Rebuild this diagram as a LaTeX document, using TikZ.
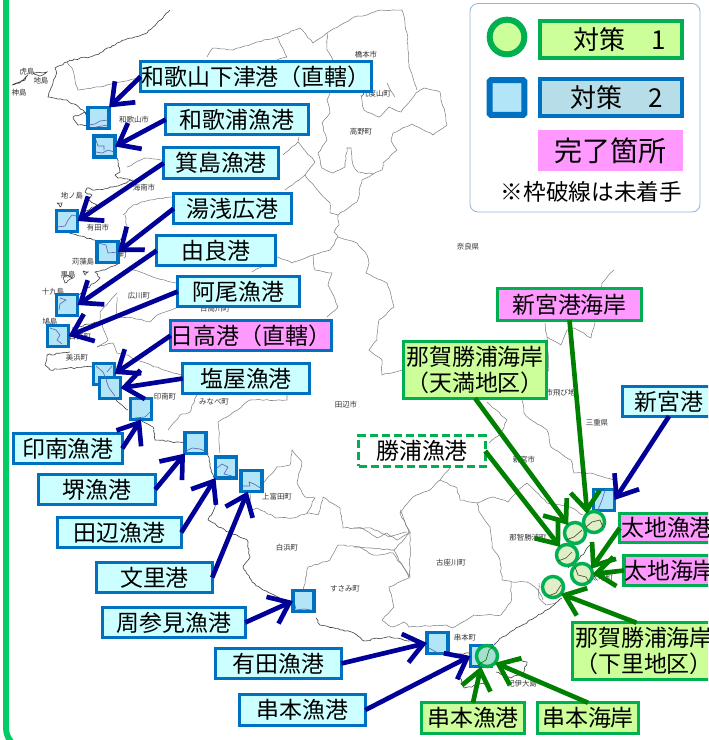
\documentclass[tikz,border=0pt]{standalone}
\usepackage{fontspec}
\setmainfont{Noto Sans CJK JP}
\usetikzlibrary{arrows.meta,decorations.pathmorphing}
\definecolor{bluel}{HTML}{0070C0}
\definecolor{greenl}{HTML}{00B050}
\definecolor{cyanf}{HTML}{CCFFFF}
\definecolor{pinkf}{HTML}{FF99FF}
\definecolor{greenf}{HTML}{CCFF99}
\definecolor{sqf}{HTML}{B3E5F9}
\definecolor{cif}{HTML}{E0EFC8}
\definecolor{navyarr}{HTML}{000099}
\definecolor{greenarr}{HTML}{008000}
\definecolor{framec}{HTML}{00CC66}
\tikzset{
  lbl/.style={rectangle,inner sep=0pt,outer sep=0pt,line width=2.6pt,align=center,font=\fontsize{17.2}{20}\selectfont},
  bluebox/.style={lbl,draw=bluel,fill=cyanf},
  greenbox/.style={lbl,draw=greenl,fill=greenf},
  pinkblue/.style={lbl,draw=bluel,fill=pinkf},
  pinkgreen/.style={lbl,draw=greenl,fill=pinkf},
  dashbox/.style={lbl,draw=greenl,fill=white,dash pattern=on 6pt off 3pt},
  sq/.style={rectangle,draw=bluel,fill=sqf,line width=2.6pt,minimum size=15.8pt,inner sep=0pt,outer sep=0pt},
  ci/.style={circle,draw=greenl,fill=cif,line width=2.6pt,minimum size=15.8pt,inner sep=0pt,outer sep=0pt},
  navyarrow/.style={draw=navyarr,line width=3.5pt,-{Straight Barb[length=14pt,width=22pt,line width=3.5pt]}},
  greenarrow/.style={draw=greenarr,line width=3.5pt,-{Straight Barb[length=14pt,width=22pt,line width=3.5pt]}},
  mapl/.style={draw=black!50,line width=0.4pt,decorate,decoration={random steps,segment length=3pt,amplitude=0.5pt}},
  coast/.style={draw=black!75,line width=0.45pt,decorate,decoration={random steps,segment length=2pt,amplitude=0.6pt}},
  maplab/.style={inner sep=0pt,text=black!80,font=\fontsize{5.6}{6}\selectfont},
  sqd/.style={draw=black!50!blue!60,line width=0.5pt},
  cid/.style={draw=black!55!olive,line width=0.5pt},
}
\newcommand\bx[7]{\node[#6,minimum width={(#4-#2-3.5)*0.75},minimum height={(#5-#3-3.5)*0.75}] (#1) at ({(#2+#4)/2},{(#3+#5)/2}) {#7};}
\begin{document}
\begin{tikzpicture}[x=0.75pt,y=-0.75pt]
\useasboundingbox (0,0) rectangle (708,740);
\clip (0,0) rectangle (708,740);
\fill[white] (0,0) rectangle (708,740);
\pgfmathsetseed{7}
% frame
\draw[framec,line width=4.5pt] (6,-5) -- (6,728) .. controls (6,735) and (9,740) .. (14,745);
% map: coast
\draw[coast] (170,10)--(157,23)--(147,33)--(130,38)--(117,43)--(100,53)--(90,57)--(80,58)--(67,62)--(55,68)--(56,75)--(53,83)--(48,97)--(67,100)--(83,110)--(90,116);
\draw[coast] (73,117)--(85,112)--(90,125)--(78,125)--(73,117);
\draw[coast] (117,158)--(120,172)--(115,175)--(118,178)--(133,180)--(113,187)--(95,190)--(87,188)--(85,192)--(92,195)--(88,200)--(97,205)--(80,215);
\draw[coast] (65,232)--(80,236)--(95,240);
\draw[coast] (120,262)--(105,270)--(95,272)--(100,278)--(85,290)--(78,295);
\draw[coast] (72,328)--(97,322);
\draw[coast] (70,352)--(47,355)--(45,365)--(50,370)--(68,368)--(92,367);
\draw[coast] (116,400)--(128,410);
\draw[coast] (142,421)--(153,427)--(155,440)--(184,443);
\draw[coast] (208,453)--(210,467)--(214,478);
\draw[coast] (214,490)--(217,503)--(208,520)--(230,533)--(247,540)--(250,557)--(243,567)--(252,582)--(263,590)--(290,603);
\draw[coast] (316,618)--(320,625)--(343,630)--(354,633)--(364,641)--(387,637)--(424,643);
\draw[coast] (450,655)--(469,653);
\draw[coast] (493,647)--(501,638)--(514,630)--(534,618)--(554,605)--(562,598);
\draw[coast] (500,665)--(521,660)--(527,662)--(524,672)--(511,678)--(496,672);
\draw[coast] (460,678)--(464,688)--(487,683)--(481,668);
\draw[coast] (12,85)--(20,83)--(28,75)--(25,80)--(12,85);
\draw[coast] (33,73)--(47,72)--(40,76)--(33,73);
\draw[coast] (57,203)--(62,203)--(60,207)--(57,203);
\draw[coast] (68,275)--(73,278)--(65,283)--(63,278)--(68,275);
\draw[coast] (83,271)--(88,272)--(85,275)--(83,271);
\draw[coast] (568,568)--(578,560)--(590,545);
% map: borders
\draw[mapl] (67,62)--(72,68)--(75,80)--(78,90)--(100,87)--(120,82)--(139,78);
\draw[mapl] (207,57)--(213,48)--(233,50)--(257,42)--(277,37)--(300,28)--(313,43)--(327,33)--(354,17)--(367,15)--(381,10)--(402,10)--(407,33)--(409,67)--(417,90);
\draw[mapl] (277,37)--(287,57)--(277,60);
\draw[mapl] (327,33)--(327,50)--(333,60);
\draw[mapl] (333,60)--(330,93)--(327,100)--(330,113)--(322,123)--(327,140)--(318,153)--(322,168)--(333,173)--(345,167)--(347,148)--(351,148)--(353,165)--(358,172)--(373,174)--(382,170)--(383,163)--(397,150)--(391,140)--(393,133)--(412,124)--(433,135)--(447,125)--(445,113)--(441,100)--(440,92)--(424,88)--(416,93)--(401,112)--(389,107)--(379,117)--(364,110)--(361,95);
\draw[mapl] (387,83)--(395,97);
\draw[mapl] (127,167)--(145,158)--(163,160);
\draw[mapl] (299,137)--(298,142)--(315,162)--(305,175)--(285,190);
\draw[mapl] (298,142)--(283,155);
\draw[mapl] (305,175)--(320,193)--(330,203)--(330,213)--(338,215)--(357,202)--(362,180)--(373,174);
\draw[mapl] (338,215)--(339,225)--(334,232)--(338,237)--(357,243)--(367,255)--(369,263)--(366,273)--(387,283)--(394,307)--(379,320)--(377,340)--(369,350)--(382,360)--(382,375)--(402,370);
\draw[mapl] (338,237)--(330,250)--(313,255)--(292,263)--(278,257)--(252,272);
\draw[mapl] (313,255)--(315,270)--(332,273)--(328,285)--(338,307)--(327,317);
\draw[mapl] (123,215)--(133,205)--(150,200)--(172,197);
\draw[mapl] (125,215)--(128,232)--(120,240);
\draw[mapl] (133,270)--(153,277)--(176,283);
\draw[mapl] (117,293)--(100,312)--(100,320)--(108,340)--(97,347);
\draw[mapl] (117,297)--(117,317)--(133,318)--(150,322)--(157,315)--(176,308);
\draw[mapl] (97,347)--(113,343)--(117,353)--(128,355)--(135,360)--(181,375);
\draw[mapl] (287,395)--(287,400)--(250,400)--(230,415)--(218,422)--(220,453);
\draw[mapl] (197,395)--(190,412)--(180,415)--(168,430);
\draw[mapl] (263,483)--(277,467)--(290,465)--(292,450)--(302,462)--(297,483)--(305,497)--(315,498)--(307,513)--(318,515)--(323,497)--(340,508)--(343,528)--(362,528)--(377,538)--(387,533)--(397,540)--(410,532)--(400,513)--(413,497)--(430,490)--(440,480);
\draw[mapl] (250,493)--(250,510)--(257,508)--(277,518)--(293,518)--(307,513);
\draw[mapl] (410,532)--(410,577)--(393,553)--(373,555)--(360,547)--(338,545)--(330,560)--(308,567)--(303,590);
\draw[mapl] (450,468)--(440,480)--(457,488)--(460,500)--(477,503)--(493,497)--(508,502)--(518,490)--(527,483)--(547,503)--(570,507)--(583,515);
\draw[mapl] (477,503)--(480,513)--(490,527)--(492,547)--(500,560)--(502,580)--(512,582)--(527,582)--(538,590)--(543,600);
\draw[mapl] (400,510)--(409,533)--(394,550)--(409,578)--(389,587)--(394,607)--(382,620)--(392,627)--(404,622)--(409,627)--(446,625)--(452,628)--(474,615)--(501,615)--(511,602)--(511,582);
\draw[mapl] (354,528)--(371,528)--(389,537)--(407,532);
\draw[mapl] (354,547)--(371,548)--(394,550);
\draw[mapl] (539,583)--(539,598)--(546,605)--(557,602);
\draw[mapl] (545,323)--(547,337)--(561,345)--(567,330)--(574,328)--(591,338)--(594,327)--(602,283)--(614,270);
\draw[mapl] (547,337)--(549,370)--(522,400)--(524,413)--(531,420)--(547,430)--(551,447)--(571,460)--(574,473)--(590,473)--(614,480)--(616,490);
\draw[mapl] (487,402)--(507,420)--(501,433)--(489,443);
% map labels
\foreach \px/\py/\tx in {
 134/120/和歌山市,144/188/海南市,98/228/有田市,116/255/湯浅町,139/296/広川町,80/337/日高町,77/358/美浜町,165/397/印南町,214/402/みなべ町,346/405/田辺市,277/497/上富田町,287/548/白浜町,345/589/すさみ町,465/638/串本町,451/563/古座川町,528/538/那智勝浦町,602/578/太地町,522/684/紀伊大島,524/460/新宮市,597/423/三重県,468/247/奈良県,361/132/高野町,366/55/橋本市,376/94/九度山町,553/393/新宮市飛び地,215/309/日高川町,
 27/72/虎島,41/81/地島,19/93/神島,72/196/地ノ島,83/262/苅藻島,68/275/黒島,53/292/十九島,50/322/鳩島}
 {\node[maplab] at (\px,\py) {\tx};}
% small squares
\node[sq] (s1) at (98.5,118) {};
\node[sq] (s2) at (104.5,146.5) {};
\node[sq] (s3) at (67,221) {};
\node[sq] (s4) at (107.5,252) {};
\node[sq] (s5) at (67,305) {};
\node[sq] (s6) at (58,336) {};
\node[sq] (s7) at (104,374) {};
\node[sq] (s8) at (110,388) {};
\node[sq] (s9) at (141,409) {};
\node[sq] (s10) at (195.5,443) {};
\node[sq] (s11) at (226,467.5) {};
\node[sq] (s12) at (251.5,481) {};
\node[sq] (s13) at (303.5,601) {};
\node[sq] (s14) at (437.5,643) {};
\node[sq] (s15) at (481,656) {};
\node[sq] (s16) at (604,500) {};
% squiggles in squares
\draw[sqd] (89,125)--(95,124)--(100,121)--(108,120) (96,127)--(108,125);
\draw[sqd] (96,140)--(98,146)--(104,146)--(104,150) (96,152)--(102,153)--(108,150)--(114,152);
\draw[sqd] (58,227)--(65,226)--(68,220)--(72,215)--(76,216);
\draw[sqd] (98,243)--(106,245)--(108,253)--(118,252);
\draw[sqd] (59,310)--(60,304)--(66,300)--(60,298);
\draw[sqd] (50,328)--(56,330)--(60,335)--(57,340)--(62,344);
\draw[sqd] (96,366)--(103,372)--(107,380) (112,366)--(107,372);
\draw[sqd] (106,380)--(109,388)--(115,396);
\draw[sqd] (135,418)--(145,417)--(150,412);
\draw[sqd] (186,451)--(192,448)--(200,449)--(205,451);
\draw[sqd] (217,468)--(222,464)--(228,467)--(224,474)--(232,476);
\draw[sqd] (243,486)--(250,486)--(249,482)--(254,484)--(262,489);
\draw[sqd] (295,605)--(296,610)--(304,609)--(311,610);
\draw[sqd] (429,648)--(436,652)--(444,654);
\draw[sqd] (598,510)--(602,500)--(605,490)--(612,489);
% circles
\node[ci] (c1) at (594,522) {};
\node[ci] (c2) at (575,533) {};
\node[ci] (c3) at (567,555) {};
\node[ci] (c4) at (582,574) {};
\node[ci] (c5) at (553,587) {};
\node[ci,fill={rgb,255:red,168;green,222;blue,207}] (c6) at (487,656) {};
\draw[cid] (586,527)--(592,522)--(600,520)--(603,527);
\draw[cid] (566,540)--(574,537)--(582,530);
\draw[cid] (558,561)--(566,558)--(572,552);
\draw[cid] (575,567)--(578,575)--(586,577)--(589,582);
\draw[cid] (548,596)--(556,593)--(561,585);
\draw[black!50!green,line width=0.5pt] (478,665)--(486,660)--(489,650)--(493,647);
% boxes
\bx{b1}{139}{60}{373}{93}{bluebox}{和歌山下津港（直轄）}
\bx{b2}{164}{103}{310}{136}{bluebox}{和歌浦漁港}
\bx{b3}{162}{146}{280}{180}{bluebox}{箕島漁港}
\bx{b4}{172}{192}{293}{225}{bluebox}{湯浅広港}
\bx{b5}{155}{234}{277}{267}{bluebox}{由良港}
\bx{b6}{176}{275}{301}{308}{bluebox}{阿尾漁港}
\bx{b7}{169}{319}{333}{352}{pinkblue}{日高港（直轄）}
\bx{b8}{181}{362}{311}{395}{bluebox}{塩屋漁港}
\bx{b9}{12}{432}{124}{465}{bluebox}{印南漁港}
\bx{b10}{37}{473}{157}{506}{bluebox}{堺漁港}
\bx{b11}{56}{516}{183}{549}{bluebox}{田辺漁港}
\bx{b12}{95}{561}{214}{594}{bluebox}{文里港}
\bx{b13}{101}{606}{247}{639}{bluebox}{周参見漁港}
\bx{b14}{214}{647}{343}{680}{bluebox}{有田漁港}
\bx{b15}{238}{693}{367}{727}{bluebox}{串本漁港}
\bx{b16}{621}{385}{717}{418}{bluebox}{新宮港}
\bx{g1}{496}{287}{643}{322}{pinkgreen}{新宮港海岸}
\bx{g2}{402}{340}{548}{400}{greenbox}{那賀勝浦海岸\\（天満地区）}
\bx{g3}{357}{434}{487}{468}{dashbox}{勝浦漁港}
\bx{g4}{618}{512}{716}{544}{pinkgreen}{太地漁港}
\bx{g5}{624}{554}{716}{587}{pinkgreen}{太地海岸}
\bx{g6}{571}{621}{717}{681}{greenbox}{那賀勝浦海岸\\（下里地区）}
\bx{g7}{420}{701}{526}{735}{greenbox}{串本漁港}
\bx{g8}{536}{701}{640}{735}{greenbox}{串本海岸}
% connectors
\draw[navyarrow] (b1.west) -- (s1.north east);
\draw[navyarrow] (b2.west) -- (s2.east);
\draw[navyarrow] (b3.west) -- (s3.east);
\draw[navyarrow] (b4.west) -- (s4.east);
\draw[navyarrow] (b5.west) -- (s5.east);
\draw[navyarrow] (b6.west) -- (s6.east);
\draw[navyarrow] (b7.west) -- (s7.east);
\draw[navyarrow] (b8.west) -- (s8.east);
\draw[navyarrow] (b9.east) -- (s9.south);
\draw[navyarrow] (b10.east) -- (s10.south west);
\draw[navyarrow] (b11.east) -- (s11.south west);
\draw[navyarrow] (b12.east) -- (s12.250);
\draw[navyarrow] (b13.east) -- (s13.west);
\draw[navyarrow] (b14.east) -- (s14.west);
\draw[navyarrow] (b15.east) -- (s15.west);
\draw[navyarrow] (b16.south) -- (s16.east);
\draw[greenarrow] (g1.south) -- (c1.130);
\draw[greenarrow] (g2.south) -- (c2.130);
\draw[greenarrow] (g3.east) -- (c3.130);
\draw[greenarrow] (g4.west) -- (c4.30);
\draw[greenarrow] (g5.west) -- (c4.east);
\draw[greenarrow] (g6.105) -- (c5.-40);
\draw[greenarrow] (g7.north) -- (s15.south);
\draw[greenarrow] (g8.north) -- (c6.-40);
% legend
\draw[draw={rgb,255:red,141;green,179;blue,226},fill=white,line width=0.6pt,rounded corners=6pt] (470,3.5) rectangle (700,212);
\node[ci,fill=greenf,line width=4.5pt,minimum size=26pt] (lc) at (507,37) {};
\node[sq,line width=4.5pt,minimum size=26pt,rounded corners=1pt] (ls) at (507,97.5) {};
\node[lbl,draw=greenl,fill=greenf,minimum width=107pt,minimum height=28pt,line width=3pt,font=\fontsize{19.5}{22}\selectfont] (l1) at (611,39.5) {\hspace*{13pt}対策　1};
\node[lbl,draw=bluel,fill={rgb,255:red,183;green,221;blue,232},minimum width=107pt,minimum height=28pt,line width=3pt,font=\fontsize{19.5}{22}\selectfont] (l2) at (611,97.5) {\hspace*{9pt}対策　2};
\node[lbl,fill=pinkf,line width=0pt,minimum width=108.75pt,minimum height=30.75pt,font=\fontsize{21}{24}\selectfont] (l3) at (610.5,150.5) {完了箇所};
\node[inner sep=0pt,font=\fontsize{17}{20}\selectfont] (l4) at (591.5,192) {※枠破線は未着手};
\end{tikzpicture}
\end{document}
